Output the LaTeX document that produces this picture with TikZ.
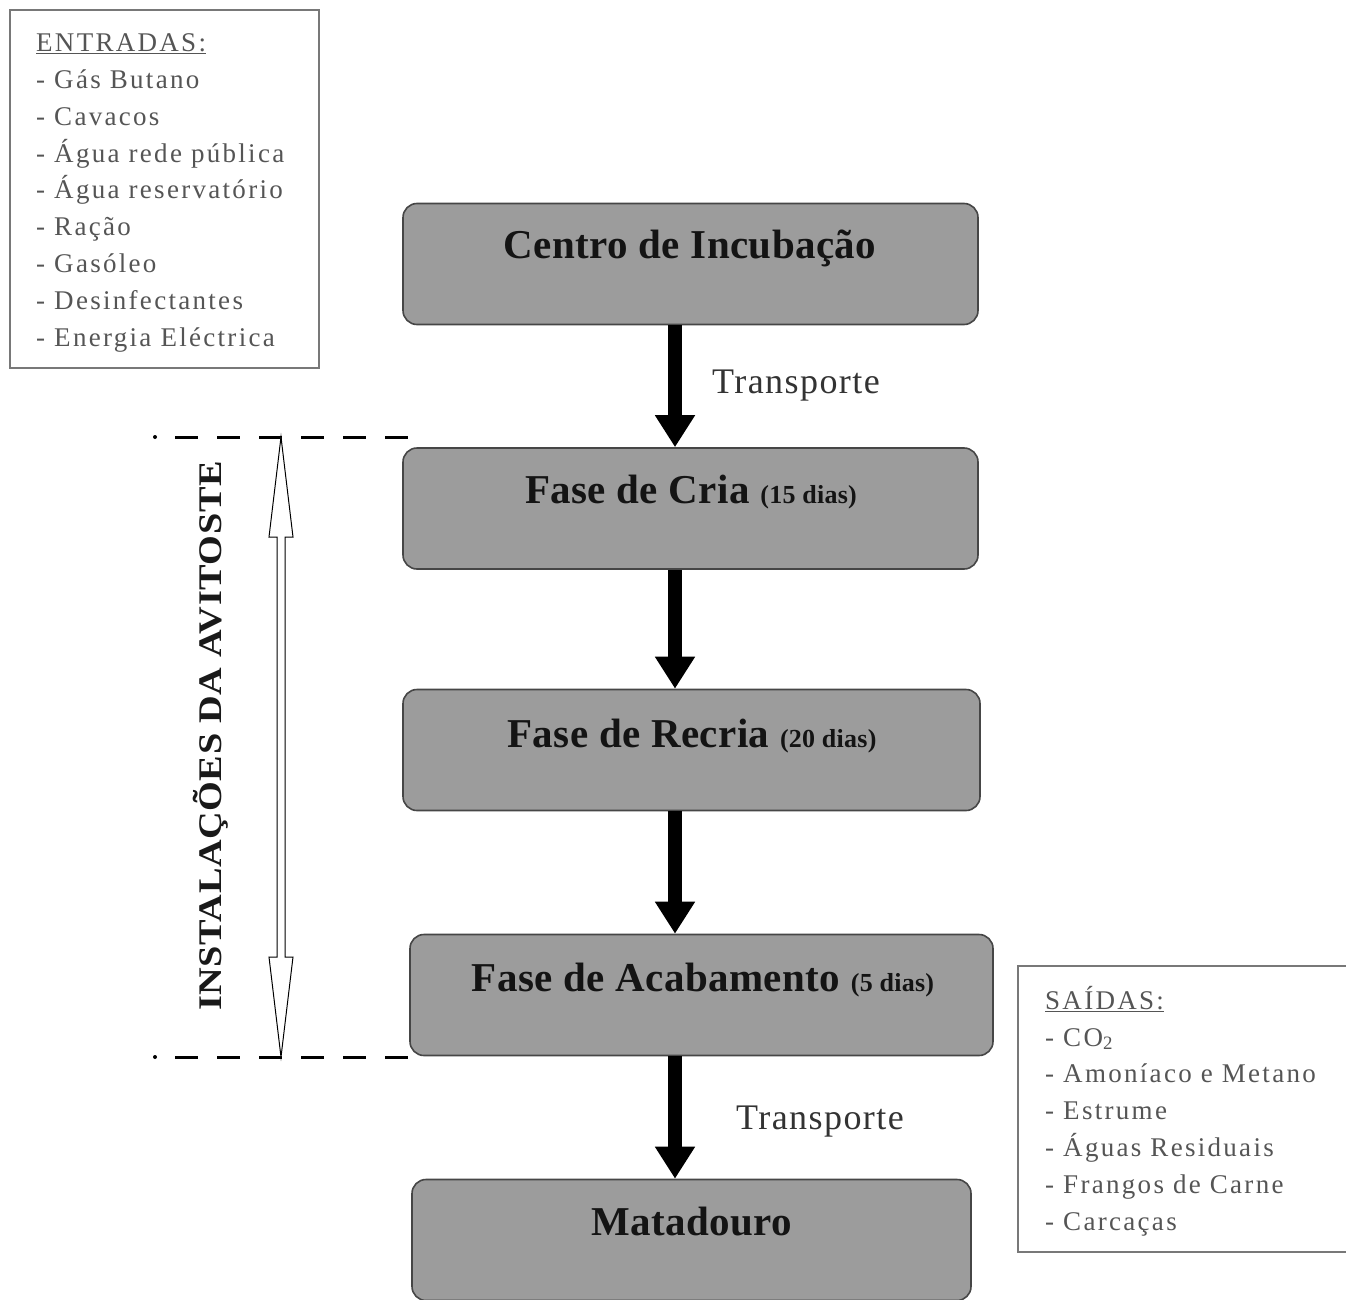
\documentclass[tikz,border=0pt]{standalone}
\usepackage{fontspec}
\usepackage{graphicx}
\setmainfont{Liberation Serif}
\usetikzlibrary{arrows.meta,calc}
\definecolor{boxgray}{RGB}{156,156,156}
\definecolor{boxedge}{RGB}{70,70,70}
\definecolor{listgray}{RGB}{85,85,85}
\definecolor{framegray}{RGB}{120,120,120}
\tikzset{
  stage/.style={draw=boxedge, line width=1.6pt, fill=boxgray, rounded corners=14pt,
    minimum width=575pt, minimum height=121pt, inner sep=0pt},
  stagetext/.style={anchor=base, inner sep=0pt, text=black!92,
    font=\bfseries\addfontfeature{LetterSpace=1}\fontsize{41}{41}\selectfont},
  bigarrow/.style={line width=14pt, -{Triangle[length=32pt,width=38pt]}},
  translabel/.style={anchor=base, inner sep=0pt, text=black!80,
    font=\addfontfeature{LetterSpace=4}\fontsize{36}{36}\selectfont},
  listtext/.style={anchor=base west, inner sep=0pt, align=left, text=listgray,
    font=\addfontfeature{LetterSpace=8.5}\fontsize{27}{36.8}\selectfont},
  frame/.style={draw=framegray, line width=1.3pt},
  dashline/.style={line width=3pt, dash pattern=on 23pt off 19pt},
}
\newcommand{\smalldays}[1]{{\fontsize{26}{26}\selectfont #1}}
\begin{document}
\begin{tikzpicture}[x=1pt,y=-1pt]
\useasboundingbox[fill=white] (0,0) rectangle (1346,1300);

% dashed limits and double arrow
\coordinate (dt) at (281,437);
\coordinate (db) at (281,1057);
\draw[dashline] (175,437) -- (408,437);
\draw[dashline] (175,1057) -- (410,1057);
\fill (155,437) circle (2pt);
\fill (155,1057) circle (2pt);

\draw[fill=white, line width=1pt]
  (dt) -- ++(12,100) -- ++(-8,0) -- ($(db)+(4,-100)$) -- ++(8,0) -- (db)
  -- ++(-12,-100) -- ++(8,0) -- ($(dt)+(-4,100)$) -- ++(-8,0) -- cycle;

\node[rotate=90, inner sep=0pt, text=black!90,
  font=\bfseries\addfontfeature{LetterSpace=1.5}\fontsize{33}{33}\selectfont] (vt) at (211,736)
  {\scalebox{1.16}[1]{INSTALAÇÕES DA AVITOSTE}};

% stages
\node[stage] (b1) at (690.5,264) {};
\node[stage] (b2) at (690.5,508.5) {};
\node[stage, minimum width=577pt] (b3) at (691.5,750) {};
\node[stage, minimum width=583pt] (b4) at (701.5,995) {};
\node[stage, minimum width=559pt] (b5) at (691.5,1240) {};

\node[stagetext] (t1) at (690,258) {Centro de Incubação};
\node[stagetext] (t2) at (691,503) {Fase de Cria \smalldays{(15 dias)}};
\node[stagetext] (t3) at (692,747) {Fase de Recria \smalldays{(20 dias)}};
\node[stagetext] (t4) at (703,991) {Fase de Acabamento \smalldays{(5 dias)}};
\node[stagetext] (t5) at (692,1235) {Matadouro};

% arrows
\coordinate (ax) at (675,0);
\draw[bigarrow] (b1.south -| ax) -- (b2.north -| ax);
\draw[bigarrow] (b2.south -| ax) -- (b3.north -| ax);
\draw[bigarrow] (b3.south -| ax) -- (b4.north -| ax);
\draw[bigarrow] (b4.south -| ax) -- (b5.north -| ax);

\node[translabel] (tr1) at (796,393) {Transporte};
\node[translabel] (tr2) at (820,1129) {Transporte};

% inputs
\draw[frame] (10,10) rectangle (319,368);
\node[listtext] (in) at (36,346) {\underline{ENTRADAS:}\\
- Gás Butano\\
- Cavacos\\
- Água rede pública\\
- Água reservatório\\
- Ração\\
- Gasóleo\\
- Desinfectantes\\
- Energia Eléctrica};

% outputs
\draw[frame] (1346,966) -- (1018,966) -- (1018,1252) -- (1346,1252);
\node[listtext] (out) at (1045,1230) {\underline{SAÍDAS:}\\
- CO\textsubscript{2}\\
- Amoníaco e Metano\\
- Estrume\\
- Águas Residuais\\
- Frangos de Carne\\
- Carcaças};
\end{tikzpicture}
\end{document}
